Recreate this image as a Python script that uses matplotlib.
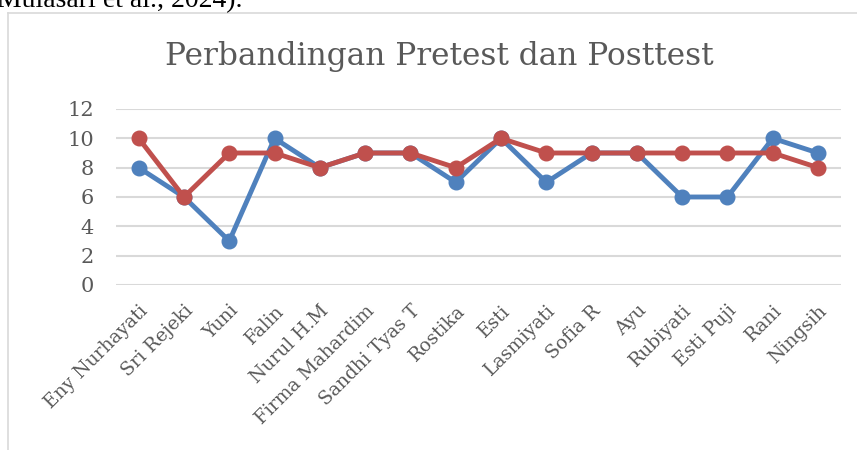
import matplotlib
matplotlib.use("Agg")
import matplotlib.pyplot as plt
from matplotlib.lines import Line2D

names = ["Eny Nurhayati", "Sri Rejeki", "Yuni", "Falin", "Nurul H.M", "Firma Mahardim",
         "Sandhi Tyas T", "Rostika", "Esti", "Lasmiyati", "Sofia R", "Ayu", "Rubiyati",
         "Esti Puji", "Rani", "Ningsih"]
pretest = [8, 6, 3, 10, 8, 9, 9, 7, 10, 7, 9, 9, 6, 6, 10, 9]
posttest = [10, 6, 9, 9, 8, 9, 9, 8, 10, 9, 9, 9, 9, 9, 9, 8]
yticks = [0, 2, 4, 6, 8, 10, 12]
title = "Perbandingan Pretest dan Posttest"

serif = ["DejaVu Serif"]
gray = "#595959"

fig = plt.figure(figsize=(8.57, 4.5), dpi=100)
ax = fig.add_axes([0.1354, 0.3667, 0.981 - 0.1354, 0.7578 - 0.3667])

x = list(range(len(names)))
ax.plot(x, pretest, color="#4F81BD", lw=3.5, marker="o", ms=10.5, zorder=3)
ax.plot(x, posttest, color="#C0504D", lw=3.5, marker="o", ms=10.5, zorder=4)

ax.set_xlim(-0.5, len(names) - 0.5)
ax.set_ylim(0, 12)
ax.set_yticks(yticks)
ax.set_yticklabels([str(v) for v in yticks], fontfamily=serif, fontsize=15, color=gray)
ax.set_xticks(x)
ax.set_xticklabels(names, rotation=45, ha="right", rotation_mode="anchor",
                   fontfamily=serif, fontsize=13.5, color=gray)
ax.tick_params(axis="y", length=0, pad=16)
ax.tick_params(axis="x", length=0, pad=12)
ax.grid(axis="y", color="#D9D9D9", lw=1.5)
ax.set_axisbelow(True)
for s in ax.spines.values():
    s.set_visible(False)

fig.text(0.513, 1 - 57 / 450, title, ha="center", va="center",
         fontfamily=serif, fontsize=22.5, color=gray)

# chart frame (left and top border)
fig.add_artist(Line2D([8 / 857, 8 / 857], [0, 1 - 13 / 450], transform=fig.transFigure,
                      color="#D9D9D9", lw=1.2))
fig.add_artist(Line2D([8 / 857, 1], [1 - 13 / 450, 1 - 13 / 450], transform=fig.transFigure,
                      color="#D9D9D9", lw=1.2))

# clipped caption text at the very top
fig.text(-0.003, 1 - 7 / 450, "Mulasari et al., 2024).", ha="left", va="baseline",
         fontfamily=["Liberation Serif"], fontsize=20, color="black")

fig.savefig("out.png", dpi=100)
